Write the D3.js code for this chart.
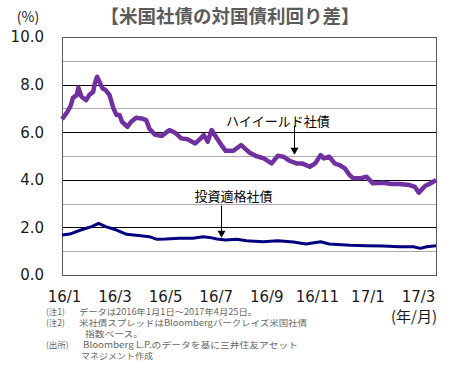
<!DOCTYPE html>
<html>
<head>
<meta charset="utf-8">
<script src="https://cdn.jsdelivr.net/npm/d3@7"></script>
<style>
  body { margin: 0; background: #fff; }
  svg { display: block; }
  .tick text { font-family: "DejaVu Sans", Verdana, sans-serif; }
  .jp { font-family: "Noto Sans CJK JP", sans-serif; }
</style>
</head>
<body>
<div id="chart"></div>
<script>
// high yield spread (%)
const hyDates = ['2016-01-01','2016-01-05','2016-01-08','2016-01-12','2016-01-15','2016-01-20','2016-01-22','2016-01-26',
  '2016-02-01','2016-02-05','2016-02-10','2016-02-12','2016-02-15','2016-02-18','2016-02-22','2016-02-26',
  '2016-03-02','2016-03-07','2016-03-11','2016-03-15','2016-03-18','2016-03-25','2016-03-30',
  '2016-04-05','2016-04-12','2016-04-18','2016-04-22','2016-04-29',
  '2016-05-08','2016-05-13','2016-05-18','2016-05-25','2016-06-02','2016-06-10','2016-06-20','2016-06-27',
  '2016-07-01','2016-07-06','2016-07-11','2016-07-15','2016-07-25','2016-07-29','2016-08-08','2016-08-18','2016-08-25','2016-08-29',
  '2016-09-06','2016-09-16','2016-09-26','2016-10-04','2016-10-11','2016-10-19','2016-10-28',
  '2016-11-04','2016-11-14','2016-11-21','2016-11-28','2016-12-02','2016-12-09','2016-12-16','2016-12-22','2016-12-29',
  '2017-01-04','2017-01-09','2017-01-17','2017-01-26','2017-02-03','2017-02-16','2017-02-27',
  '2017-03-09','2017-03-22','2017-03-29','2017-04-03','2017-04-11','2017-04-18','2017-04-25'];
const hyValues = [6.55,6.72,6.86,7.10,7.44,7.56,7.87,7.49,
  7.35,7.56,7.70,8.03,8.33,8.12,7.84,7.77,
  7.56,7.00,6.72,6.72,6.44,6.23,6.44,
  6.61,6.58,6.51,6.16,5.90,
  5.84,5.97,6.09,5.98,5.74,5.70,5.53,5.74,
  5.88,5.60,6.09,5.88,5.39,5.22,5.22,5.46,5.25,5.14,
  5.00,4.90,4.69,5.01,4.97,4.80,4.69,
  4.69,4.55,4.69,5.04,4.90,4.97,4.69,4.62,4.48,
  4.20,4.06,4.06,4.13,3.85,3.88,3.82,
  3.82,3.78,3.70,3.46,3.74,3.85,3.99];

// investment grade spread (%)
const igDates = ['2016-01-01','2016-01-11','2016-01-25','2016-02-08','2016-02-17','2016-02-26','2016-03-11','2016-03-24',
  '2016-04-11','2016-04-22','2016-05-02','2016-05-13','2016-05-31','2016-06-17','2016-06-30','2016-07-08','2016-07-18','2016-07-29',
  '2016-08-12','2016-08-25','2016-09-15','2016-10-04','2016-10-24','2016-11-09','2016-11-28','2016-12-09',
  '2017-01-05','2017-01-26','2017-02-16','2017-03-09','2017-03-27','2017-04-05','2017-04-13','2017-04-25'];
const igValues = [1.68,1.72,1.89,2.03,2.17,2.03,1.89,1.71,
  1.65,1.61,1.50,1.51,1.54,1.54,1.61,1.58,1.51,1.47,
  1.50,1.44,1.40,1.44,1.39,1.30,1.40,1.30,
  1.25,1.23,1.22,1.19,1.19,1.12,1.19,1.23];

const xLabels = ['16/1','16/3','16/5','16/7','16/9','16/11','17/1','17/3'];
const yTicks = [0, 2, 4, 6, 8, 10];
const yMinor = [1, 3, 5, 7, 9];

const notes = [
  ['(注1)', 'データは2016年1月1日～2017年4月25日。'],
  ['(注2)', '米社債スプレッドはBloombergバークレイズ米国社債'],
  ['', '指数ベース。'],
  ['(出所)', 'Bloomberg L.P.のデータを基に三井住友アセット'],
  ['', 'マネジメント作成']
];

const width = 459, height = 370;
const margin = {left: 62, top: 37, right: 23, bottom: 95};

const parse = d3.timeParse('%Y-%m-%d');
const hy = hyDates.map((d, i) => ({date: parse(d), v: hyValues[i]}));
const ig = igDates.map((d, i) => ({date: parse(d), v: igValues[i]}));

const svg = d3.select('#chart').append('svg')
  .attr('width', width)
  .attr('height', height);

const xScale = d3.scaleTime()
  .domain([parse('2016-01-01'), parse('2017-04-25')])
  .range([margin.left, width - margin.right]);

const yScale = d3.scaleLinear()
  .domain([0, 10])
  .range([height - margin.bottom, margin.top]);

const xLabelScale = d3.scalePoint()
  .domain(xLabels)
  .range([64, 418]);

// grid
svg.append('g').selectAll('line').data(yMinor).join('line')
  .attr('x1', margin.left).attr('x2', width - margin.right)
  .attr('y1', d => Math.round(yScale(d)) + 0.5).attr('y2', d => Math.round(yScale(d)) + 0.5)
  .attr('stroke', '#b3a6b3').attr('stroke-width', 1);

svg.append('g').selectAll('line').data(yTicks.filter(d => d > 0 && d < 10)).join('line')
  .attr('x1', margin.left).attr('x2', width - margin.right)
  .attr('y1', d => Math.round(yScale(d)) + 0.5).attr('y2', d => Math.round(yScale(d)) + 0.5)
  .attr('stroke', '#000').attr('stroke-width', 1);

// frame
svg.append('rect')
  .attr('x', margin.left + 0.5).attr('y', margin.top + 0.5)
  .attr('width', width - margin.left - margin.right)
  .attr('height', height - margin.top - margin.bottom)
  .attr('fill', 'none').attr('stroke', '#595959');

// y axis
const yAxis = svg.append('g')
  .attr('transform', `translate(${margin.left},0)`)
  .call(d3.axisLeft(yScale).tickValues(yTicks).tickFormat(d3.format('.1f')).tickSize(0).tickPadding(18));
yAxis.select('.domain').remove();
yAxis.selectAll('text').attr('font-size', 15).attr('fill', '#1a1a1a');

// x labels
const xAxis = svg.append('g')
  .attr('transform', `translate(0,${height - margin.bottom})`)
  .call(d3.axisBottom(xLabelScale).tickSize(0).tickPadding(16));
xAxis.select('.domain').remove();
xAxis.selectAll('text').attr('font-size', 15).attr('fill', '#1a1a1a');

const line = d3.line()
  .curve(d3.curveLinear)
  .x(d => xScale(d.date))
  .y(d => yScale(d.v));

svg.append('path').datum(ig)
  .attr('d', line)
  .attr('fill', 'none').attr('stroke', '#000080')
  .attr('stroke-width', 3).attr('stroke-linejoin', 'round');

svg.append('path').datum(hy)
  .attr('d', line)
  .attr('fill', 'none').attr('stroke', '#7030a0')
  .attr('stroke-width', 4.5).attr('stroke-linejoin', 'round');

// annotations
const annots = [
  {text: 'ハイイールド社債', date: '2016-10-04', v: 6.47, arrowDate: '2016-10-25', from: 6.28, to: 5.05},
  {text: '投資適格社債', date: '2016-08-08', v: 3.32, arrowDate: '2016-07-23', from: 2.92, to: 1.56}
];

annots.forEach(a => {
  svg.append('text').attr('class', 'jp')
    .attr('x', xScale(parse(a.date))).attr('y', yScale(a.v))
    .attr('dy', '0.36em')
    .attr('text-anchor', 'middle')
    .attr('font-size', 13)
    .attr('fill', '#000')
    .text(a.text);
  const ax = Math.round(xScale(parse(a.arrowDate))) + 0.5;
  const y0 = yScale(a.from), y1 = yScale(a.to);
  svg.append('line')
    .attr('x1', ax).attr('x2', ax).attr('y1', y0).attr('y2', y1 - 5)
    .attr('stroke', '#000').attr('stroke-width', 1);
  svg.append('path')
    .attr('d', `M${ax - 4},${y1 - 7}L${ax + 4},${y1 - 7}L${ax},${y1}Z`)
    .attr('fill', '#000');
});

// titles
svg.append('text').attr('class', 'jp')
  .attr('x', 230).attr('y', 23)
  .attr('text-anchor', 'middle')
  .attr('font-size', 18.5).attr('font-weight', 'bold')
  .attr('fill', '#5b5b5b')
  .text('【米国社債の対国債利回り差】');

svg.append('text').attr('class', 'jp')
  .attr('x', 28).attr('y', 22)
  .attr('text-anchor', 'middle')
  .attr('font-size', 14).attr('fill', '#1a1a1a')
  .text('(%)');

svg.append('text').attr('class', 'jp')
  .attr('x', 437).attr('y', 322)
  .attr('text-anchor', 'end')
  .attr('font-size', 15).attr('fill', '#1a1a1a')
  .text('(年/月)');

// notes
const noteY = [315, 326, 337, 348, 359];
const noteX = [79, 79, 85, 83, 81];
const noteW = [178, 228, 58, 215, 72];
const notesG = svg.append('g').attr('class', 'jp').attr('font-size', 8.5).attr('fill', '#666');
notes.forEach((n, i) => {
  if (n[0]) notesG.append('text').attr('x', 46).attr('y', noteY[i]).text(n[0]);
  notesG.append('text').attr('x', noteX[i]).attr('y', noteY[i])
    .attr('textLength', noteW[i]).attr('lengthAdjust', 'spacingAndGlyphs')
    .text(n[1]);
});
</script>
</body>
</html>
